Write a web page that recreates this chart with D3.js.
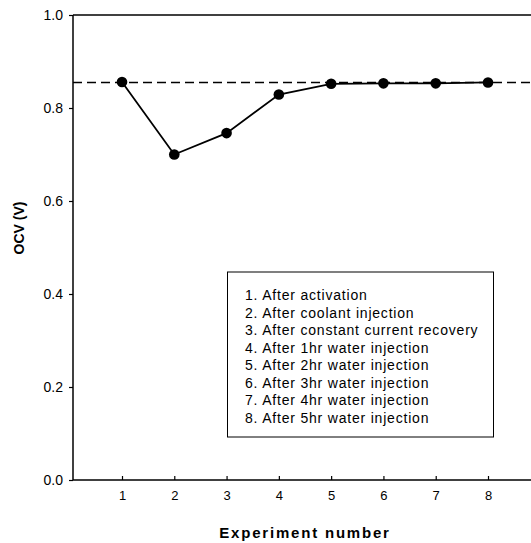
<!DOCTYPE html>
<html>
<head>
<meta charset="utf-8">
<script src="https://cdn.jsdelivr.net/npm/d3@7"></script>
<style>
  html, body { margin: 0; padding: 0; background: #fff; }
  svg { display: block; font-family: "Liberation Sans", Arial, sans-serif; }
</style>
</head>
<body>
<svg id="chart" width="531" height="543"></svg>
<script>
// Open-circuit voltage after each experiment step
const experiments = [1, 2, 3, 4, 5, 6, 7, 8];
const ocv = [0.856, 0.700, 0.746, 0.829, 0.852, 0.853, 0.853, 0.855];
const referenceOcv = 0.855;
const yTicks = [0.0, 0.2, 0.4, 0.6, 0.8, 1.0];
const legendLines = [
  "1. After activation",
  "2. After coolant injection",
  "3. After constant current recovery",
  "4. After 1hr water injection",
  "5. After 2hr water injection",
  "6. After 3hr water injection",
  "7. After 4hr water injection",
  "8. After 5hr water injection"
];

const svg = d3.select("#chart");
const plotLeft = 73, plotRight = 531, plotTop = 15, plotBottom = 480;

const x = d3.scaleLinear().domain([1, 8]).range([122, 488]);
const y = d3.scaleLinear().domain([0, 1]).range([plotBottom, plotTop]);

// frame: left, top and bottom spines
svg.append("line").attr("x1", plotLeft).attr("x2", plotLeft).attr("y1", plotTop).attr("y2", plotBottom)
  .attr("stroke", "#000").attr("stroke-width", 1.5);
svg.append("line").attr("x1", plotLeft).attr("x2", plotRight).attr("y1", plotTop).attr("y2", plotTop)
  .attr("stroke", "#000").attr("stroke-width", 1.5);
svg.append("line").attr("x1", plotLeft).attr("x2", plotRight).attr("y1", plotBottom).attr("y2", plotBottom)
  .attr("stroke", "#000").attr("stroke-width", 1.5);

// y axis ticks and labels
const yAxis = svg.append("g").attr("transform", `translate(${plotLeft},0)`)
  .call(d3.axisLeft(y).tickValues(yTicks).tickFormat(d3.format(".1f")).tickSize(4).tickPadding(6));
yAxis.select(".domain").remove();
yAxis.selectAll("line").attr("stroke-width", 1.2);
yAxis.selectAll("text").attr("font-size", 14).attr("fill", "#000").style("font-family", "Liberation Sans, Arial, sans-serif");

// x axis ticks point into the plot
const xAxis = svg.append("g").attr("transform", `translate(0,${plotBottom})`)
  .call(d3.axisBottom(x).tickValues(experiments).tickFormat(d3.format("d")).tickSizeInner(-4).tickSizeOuter(0).tickPadding(11));
xAxis.select(".domain").remove();
xAxis.selectAll("line").attr("stroke-width", 1.2);
xAxis.selectAll("text").attr("font-size", 13).attr("fill", "#000").style("font-family", "Liberation Sans, Arial, sans-serif");

// reference level (dashed)
svg.append("line")
  .attr("x1", plotLeft).attr("x2", plotRight)
  .attr("y1", y(referenceOcv)).attr("y2", y(referenceOcv))
  .attr("stroke", "#000").attr("stroke-width", 1.4).attr("stroke-dasharray", "9,5");

// measured series
const pts = experiments.map((e, i) => [e, ocv[i]]);
svg.append("path")
  .datum(pts)
  .attr("fill", "none").attr("stroke", "#000").attr("stroke-width", 1.8)
  .attr("d", d3.line().x(d => x(d[0])).y(d => y(d[1])));
svg.selectAll("circle.pt").data(pts).join("circle")
  .attr("class", "pt")
  .attr("cx", d => x(d[0])).attr("cy", d => y(d[1])).attr("r", 5.3)
  .attr("fill", "#000");

// legend box with step descriptions
const lg = svg.append("g");
lg.append("rect").attr("x", 227.5).attr("y", 272).attr("width", 266).attr("height", 165)
  .attr("fill", "#fff").attr("stroke", "#000").attr("stroke-width", 1);
lg.selectAll("text").data(legendLines).join("text")
  .attr("x", 245).attr("y", (d, i) => 300 + i * 17.5)
  .attr("font-size", 14).attr("letter-spacing", 0.8).attr("fill", "#000")
  .text(d => d);

// axis titles
svg.append("text").attr("x", 305).attr("y", 538).attr("text-anchor", "middle")
  .attr("font-size", 15).attr("font-weight", "bold").attr("letter-spacing", 1.8)
  .text("Experiment number");
svg.append("text").attr("transform", "translate(24,228) rotate(-90)").attr("text-anchor", "middle")
  .attr("font-size", 14).attr("font-weight", "bold")
  .text("OCV (V)");
</script>
</body>
</html>
